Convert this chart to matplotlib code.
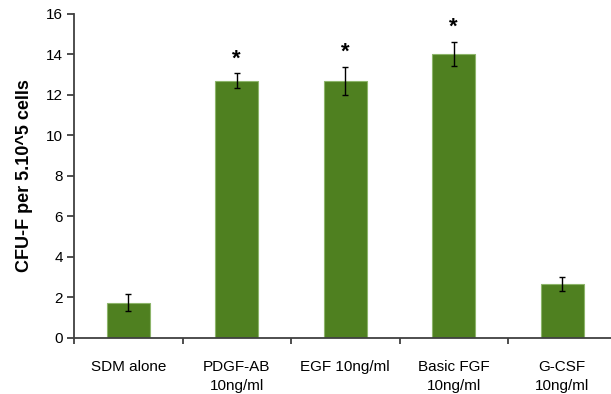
import matplotlib
matplotlib.use("Agg")
from matplotlib import pyplot as plt
import numpy as np

categories = ['SDM alone', 'PDGF-AB\n10ng/ml', 'EGF 10ng/ml', 'Basic FGF\n10ng/ml', 'G-CSF\n10ng/ml']
cfu = [1.73, 12.7, 12.7, 14.03, 2.66]
err = [0.43, 0.36, 0.68, 0.58, 0.35]
signif = [False, True, True, True, False]

plt.rcParams['font.family'] = ['Liberation Sans', 'DejaVu Sans']

fig = plt.figure(figsize=(6.11, 3.94), dpi=100)
ax = fig.add_axes([0.1211, 0.1429, 0.888, 0.8216])

xs = np.arange(len(categories))
ax.bar(xs, cfu, width=0.4, color='#4f8020', edgecolor='#8db56a', linewidth=0.8,
       yerr=err, error_kw=dict(ecolor='black', elinewidth=1, capsize=2.5, capthick=1), zorder=2)

for x, v, e, s in zip(xs, cfu, err, signif):
    if s:
        ax.text(x, v + e + 0.2, '*', ha='center', va='bottom', fontsize=16, fontweight='bold')

ax.set_xlim(-0.5, 4.5)
ax.set_ylim(0, 16)
ax.set_yticks(range(0, 17, 2))
ax.set_xticks(xs)
ax.set_xticklabels(categories, fontsize=11, linespacing=1.45, va='top')
ax.set_xticks(np.arange(-0.5, 4.0, 1.0), minor=True)
ax.tick_params(axis='x', which='major', length=0, pad=16)
ax.tick_params(axis='x', which='minor', length=4, width=1.3, color='#404040', direction='out')
ax.tick_params(axis='y', length=5, width=1.3, color='#404040', labelsize=11, pad=3)

for side in ['top', 'right']:
    ax.spines[side].set_visible(False)
for side in ['left', 'bottom']:
    ax.spines[side].set_color('#404040')
    ax.spines[side].set_linewidth(1.3)

ax.set_ylabel('CFU-F per 5.10^5 cells', fontsize=13, fontweight='bold', labelpad=9)

fig.savefig('out.png', dpi=100)
